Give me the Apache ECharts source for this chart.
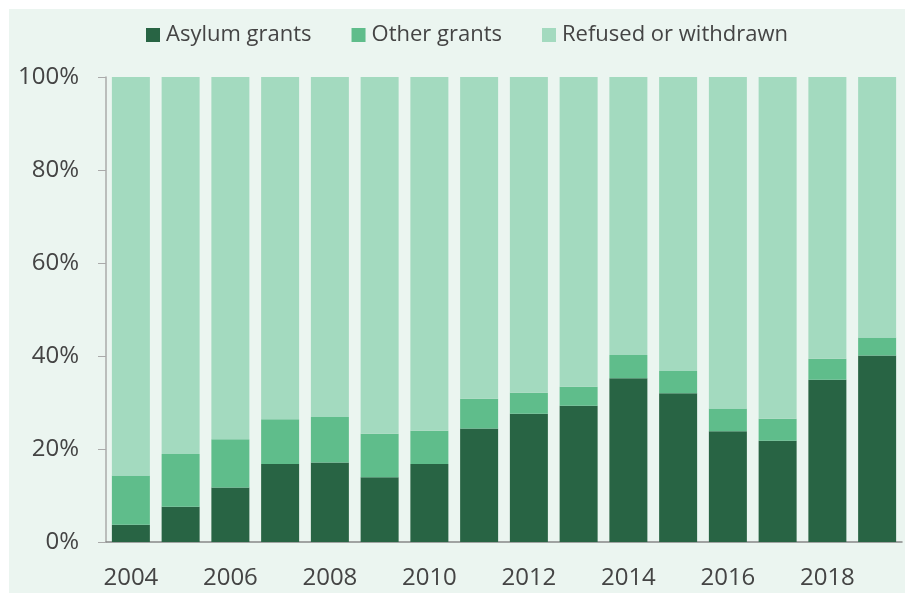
<!DOCTYPE html>
<html>
<head>
<meta charset="utf-8">
<script src="https://cdn.jsdelivr.net/npm/echarts@6/dist/echarts.min.js"></script>
<style>
  html, body { margin: 0; padding: 0; background: #ffffff; }
  #panel { position: absolute; left: 9px; top: 9px; width: 896px; height: 584px; background: #ebf5f0; }
  #chart { position: absolute; left: 0; top: 0; width: 905px; height: 594px; }
</style>
</head>
<body>
<div id="panel"></div>
<div id="chart"></div>
<script>
// Outcome of asylum applications by year (% of decisions)
const years = ['2004','2005','2006','2007','2008','2009','2010','2011','2012','2013','2014','2015','2016','2017','2018','2019'];
const asylumGrants = [3.7, 7.6, 11.7, 16.8, 17.1, 13.9, 16.8, 24.4, 27.6, 29.3, 35.2, 32.0, 23.8, 21.8, 34.9, 40.1];
const otherGrants  = [10.6, 11.3, 10.4, 9.6, 9.8, 9.4, 7.1, 6.4, 4.5, 4.1, 5.0, 4.8, 4.9, 4.7, 4.5, 3.9];
const refused = years.map((_, i) => +(100 - asylumGrants[i] - otherGrants[i]).toFixed(1));
const yTicks = [0, 20, 40, 60, 80, 100];

const chart = echarts.init(document.getElementById('chart'), null, { renderer: 'canvas' });
const font = '"Open Sans", "Noto Sans", sans-serif';

const barSeries = (name, data, color) => ({
  name, type: 'bar', stack: 'total', data, barWidth: 38,
  itemStyle: { color }, emphasis: { disabled: true }
});

chart.setOption({
  backgroundColor: 'transparent',
  animation: false,
  textStyle: { fontFamily: font },
  legend: {
    left: 141, top: 19,
    itemWidth: 14, itemHeight: 14, itemGap: 40,
    icon: 'rect',
    textStyle: { fontSize: 22, color: '#444', fontFamily: font, padding: [0, 0, 0, 1] },
    data: ['Asylum grants', 'Other grants', 'Refused or withdrawn']
  },
  grid: { left: 106, right: 3, top: 77, bottom: 52, containLabel: false },
  xAxis: {
    type: 'category', data: years,
    axisLine: { lineStyle: { color: '#888', width: 1.5 } },
    axisTick: { show: false },
    axisLabel: { interval: 1, fontSize: 24, color: '#444', margin: 24, fontFamily: font }
  },
  yAxis: {
    type: 'value', min: yTicks[0], max: yTicks[yTicks.length - 1], interval: 20,
    axisLine: { show: true, lineStyle: { color: '#aaa', width: 1.5 } },
    axisTick: { show: true, length: 8, lineStyle: { color: '#aaa' } },
    splitLine: { show: false },
    axisLabel: { fontSize: 24, color: '#444', margin: 27, formatter: v => v + '%', fontFamily: font }
  },
  series: [
    barSeries('Asylum grants', asylumGrants, '#286444'),
    barSeries('Other grants', otherGrants, '#5fbd8b'),
    barSeries('Refused or withdrawn', refused, '#a3dabf')
  ]
});
</script>
</body>
</html>
